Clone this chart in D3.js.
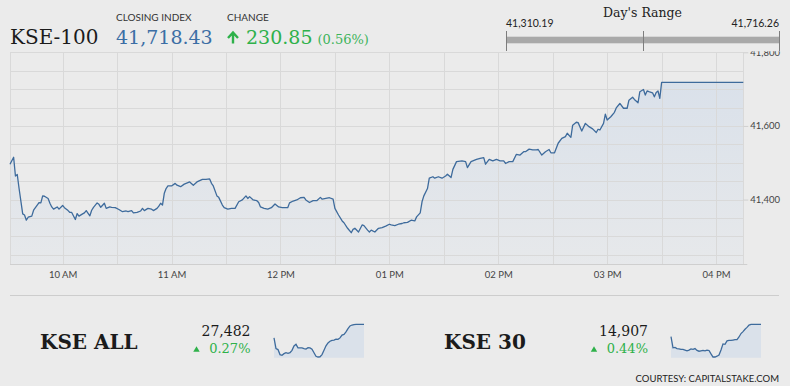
<!DOCTYPE html>
<html>
<head>
<meta charset="utf-8">
<script src="https://cdn.jsdelivr.net/npm/d3@7"></script>
<style>
    html, body { margin: 0; padding: 0; background: #ebebeb; }
    svg { display: block; }
    .serif { font-family: "DejaVu Serif", serif; }
    .sans { font-family: Lato, "Open Sans", sans-serif; }
</style>
</head>
<body>
<div id="chart"></div>
<script>
// KSE-100 intraday (time, index)
const kseTimes = [
    '09:31','09:33','09:34','09:35','09:36','09:38','09:39','09:40','09:41','09:43','09:44','09:46','09:47','09:48','09:49','09:50',
    '09:52','09:53','09:54','09:55','09:57','09:58','10:00','10:01','10:03','10:04','10:05','10:07','10:08','10:09','10:11','10:12',
    '10:13','10:15','10:16','10:17','10:19','10:20','10:21','10:23','10:24','10:26','10:27','10:29','10:31','10:33','10:35','10:36',
    '10:38','10:39','10:41','10:43','10:44','10:45','10:47','10:49','10:50','10:52','10:53','10:54','10:55','10:56','10:57','10:58',
    '11:00','11:02','11:03','11:05','11:07','11:10','11:12','11:14','11:17','11:19','11:21','11:22','11:23','11:25','11:26','11:28',
    '11:29','11:31','11:33','11:35','11:37','11:39','11:41','11:42','11:43','11:45','11:47','11:48','11:49','11:51','11:53','11:55',
    '11:57','11:59','12:01','12:04','12:05','12:07','12:09','12:11','12:13','12:14','12:16','12:18','12:20','12:22','12:23','12:25',
    '12:27','12:29','12:30','12:32','12:34','12:35','12:37','12:39','12:40','12:41','12:43','12:45','12:46','12:48','12:49','12:50',
    '12:52','12:54','12:56','12:58','13:00','13:01','13:03','13:05','13:07','13:08','13:10','13:12','13:14','13:15','13:17','13:18',
    '13:19','13:21','13:22','13:24','13:25','13:27','13:29','13:31','13:32','13:34','13:35','13:37','13:40','13:42','13:43','13:45',
    '13:47','13:48','13:50','13:52','13:53','13:55','13:57','13:59','14:01','14:03','14:04','14:06','14:08','14:10','14:12','14:14',
    '14:15','14:17','14:19','14:21','14:22','14:24','14:26','14:28','14:29','14:31','14:33','14:35','14:37','14:38','14:40','14:41',
    '14:43','14:44','14:46','14:48','14:50','14:52','14:54','14:55','14:56','14:58','14:59','15:00','15:02','15:04','15:05','15:07',
    '15:09','15:11','15:12','15:14','15:15','15:17','15:18','15:20','15:21','15:22','15:23','15:25','15:26','15:27','15:28','15:29',
    '15:30','16:15'
];
const kseValues = [
    41496,41515,41464,41468,41430,41361,41358,41344,41352,41355,41371,41385,41392,41391,41410,41409,
    41403,41390,41380,41374,41380,41374,41384,41378,41370,41365,41365,41346,41362,41355,41361,41364,
    41370,41356,41371,41379,41391,41387,41379,41390,41376,41380,41379,41378,41373,41367,41369,41367,
    41370,41364,41365,41369,41376,41370,41376,41374,41370,41376,41382,41390,41385,41417,41430,41437,
    41437,41444,41439,41435,41442,41448,41439,41448,41455,41455,41456,41444,41437,41410,41406,41385,
    41378,41374,41376,41376,41394,41399,41410,41403,41408,41399,41397,41392,41380,41376,41374,41378,
    41388,41380,41378,41378,41391,41396,41399,41405,41406,41399,41392,41397,41397,41406,41401,41403,
    41405,41401,41376,41358,41342,41337,41322,41310,41319,41322,41312,41331,41329,41317,41312,41317,
    41312,41322,41324,41328,41333,41331,41329,41333,41335,41337,41338,41344,41342,41353,41364,41394,
    41410,41430,41458,41462,41458,41462,41458,41464,41469,41460,41482,41503,41505,41503,41487,41503,
    41507,41509,41512,41514,41496,41509,41505,41509,41505,41505,41498,41503,41503,41523,41521,41530,
    41530,41537,41535,41535,41536,41521,41530,41536,41527,41527,41553,41566,41571,41580,41569,41602,
    41610,41609,41586,41607,41598,41592,41582,41591,41589,41607,41632,41616,41625,41637,41649,41661,
    41648,41648,41670,41678,41672,41663,41693,41699,41684,41695,41693,41690,41679,41691,41695,41675,
    41718.43,41718.43
];
const yTickValues = [41400, 41600, 41800];

const closingIndex = 41718.43;
const change = 230.85;
const changePct = 0.56;
const dayLow = 41310.19;
const dayHigh = 41716.26;

// small indices: name, last, % change, sparkline
const kseAllValues = [
    27425,27380,27376,27355,27352,27359,27363,27360,27363,27373,27391,27398,27383,27383,27383,27380,
    27378,27384,27383,27378,27363,27348,27345,27346,27355,27373,27392,27404,27411,27415,27416,27420,
    27419,27425,27437,27440,27450,27464,27475,27479,27481,27482,27482,27482,27482,27482
];
const kse30Values = [
    14875,14846,14847,14844,14843,14842,14842,14840,14838,14840,14843,14842,14844,14839,14837,14838,
    14839,14838,14840,14839,14830,14822,14822,14824,14827,14840,14856,14855,14864,14865,14865,14866,
    14867,14867,14874,14883,14888,14894,14899,14905,14907,14907,14907,14907,14907,14907
];
const smallNames = ['KSE ALL', 'KSE 30'];
const smallLast = [27482, 14907];
const smallPct = [0.27, 0.44];

const W = 790, H = 386;
const green = '#2eb14a';
const lineColor = '#3e6b9c';
const fmt = d3.format(',.2f');

const svg = d3.select('#chart').append('svg').attr('width', W).attr('height', H);

// ---- header
svg.append('text').attr('class', 'serif').attr('x', 10).attr('y', 43.5)
    .attr('font-size', 20).attr('fill', '#1b1b1b').text('KSE-100');
svg.append('text').attr('class', 'sans').attr('x', 116).attr('y', 20.7)
    .attr('font-size', 10).attr('fill', '#333').text('CLOSING INDEX');
svg.append('text').attr('class', 'serif').attr('x', 116).attr('y', 43.5)
    .attr('font-size', 19).attr('fill', '#3b6ea5').text(fmt(closingIndex));
svg.append('text').attr('class', 'sans').attr('x', 227).attr('y', 20.7)
    .attr('font-size', 10).attr('fill', '#333').text('CHANGE');
svg.append('path').attr('d', 'M233,43.5V32.5M228,38L233,32.5L238,38')
    .attr('fill', 'none').attr('stroke', green).attr('stroke-width', 2.4);
const chg = svg.append('text').attr('class', 'serif').attr('x', 246).attr('y', 43.5).attr('fill', green);
chg.append('tspan').attr('font-size', 19).text(fmt(change));
chg.append('tspan').attr('font-size', 13).attr('dx', 5).attr('fill', '#3cb35a').text('(' + changePct.toFixed(2) + '%)');

// ---- day's range bar
const rx = d3.scaleLinear().domain([dayLow, dayHigh]).range([506, 779]);
svg.append('text').attr('class', 'serif').attr('x', rx((dayLow + dayHigh) / 2)).attr('y', 16.7)
    .attr('text-anchor', 'middle').attr('font-size', 12.5).attr('fill', '#222').text("Day's Range");
svg.append('text').attr('class', 'sans').attr('x', rx(dayLow)).attr('y', 27)
    .attr('font-size', 10.5).attr('fill', '#222').text(fmt(dayLow));
svg.append('text').attr('class', 'sans').attr('x', rx(dayHigh)).attr('y', 27).attr('text-anchor', 'end')
    .attr('font-size', 10.5).attr('fill', '#222').text(fmt(dayHigh));
svg.append('rect').attr('x', rx(dayLow)).attr('y', 36.7).attr('width', rx(dayHigh) - rx(dayLow)).attr('height', 6.6)
    .attr('fill', '#a9a9a9');
svg.selectAll('.range-tick').data([dayLow, (dayLow + dayHigh) / 2, dayHigh]).enter()
    .append('line').attr('class', 'range-tick')
    .attr('x1', d => Math.round(rx(d)) + 0.5).attr('x2', d => Math.round(rx(d)) + 0.5)
    .attr('y1', 31).attr('y2', 51).attr('stroke', '#7d7d7d').attr('stroke-width', 1);

// ---- main chart
const parse = d3.timeParse('%H:%M');
const data = kseTimes.map((t, i) => ({ t: parse(t), v: kseValues[i] }));
const margin = { left: 10, top: 52.3, right: 743.3, bottom: 264 };
const x = d3.scaleTime().domain([parse('09:31'), parse('16:15')]).range([margin.left, margin.right]);
const y = d3.scaleLinear().domain([41225, 41800]).range([margin.bottom, margin.top]);

svg.append('clipPath').attr('id', 'below-header')
    .append('rect').attr('x', 0).attr('y', 51.3).attr('width', W).attr('height', 250);
const plot = svg.append('g').attr('clip-path', 'url(#below-header)');

const grad = svg.append('defs').append('linearGradient').attr('id', 'fillGrad')
    .attr('gradientUnits', 'userSpaceOnUse').attr('x1', 0).attr('x2', 0)
    .attr('y1', y(41718)).attr('y2', margin.bottom);
grad.append('stop').attr('offset', 0).attr('stop-color', 'rgb(150,185,230)').attr('stop-opacity', 0.2);
grad.append('stop').attr('offset', 1).attr('stop-color', 'rgb(150,185,230)').attr('stop-opacity', 0.05);

plot.append('path').datum(data)
    .attr('d', d3.area().x(d => x(d.t)).y0(margin.bottom).y1(d => y(d.v)))
    .attr('fill', 'url(#fillGrad)');

// grid
const gridColor = '#d9d9d9';
plot.append('g').selectAll('line').data(d3.range(41250, 41801, 50)).enter().append('line')
    .attr('x1', margin.left).attr('x2', margin.right)
    .attr('y1', d => Math.round(y(d)) + 0.5).attr('y2', d => Math.round(y(d)) + 0.5)
    .attr('stroke', gridColor);
const vTimes = [parse('09:31')].concat(d3.timeMinute.every(30).range(parse('10:00'), parse('16:01')), [parse('16:15')]);
plot.append('g').selectAll('line').data(vTimes).enter().append('line')
    .attr('x1', d => Math.round(x(d)) + 0.5).attr('x2', d => Math.round(x(d)) + 0.5)
    .attr('y1', margin.top).attr('y2', margin.bottom)
    .attr('stroke', gridColor);
plot.append('line').attr('x1', margin.left).attr('x2', margin.right + 4)
    .attr('y1', margin.bottom + 0.5).attr('y2', margin.bottom + 0.5).attr('stroke', '#cfcfcf');

plot.append('path').datum(data)
    .attr('d', d3.line().x(d => x(d.t)).y(d => y(d.v)))
    .attr('fill', 'none').attr('stroke', lineColor).attr('stroke-width', 1.3).attr('stroke-linejoin', 'round');

// y axis on the right
const yAxis = d3.axisRight(y).tickValues(yTickValues).tickSize(5).tickPadding(2).tickFormat(d3.format(','));
const ya = plot.append('g').attr('transform', `translate(${margin.right},0)`).call(yAxis);
ya.select('.domain').remove();
ya.selectAll('line').attr('stroke', '#cfcfcf');
ya.selectAll('text').attr('class', 'sans').attr('font-size', 9.5).attr('fill', '#444');

// x axis labels
const xAxis = d3.axisBottom(x).tickValues(d3.timeHour.every(1).range(parse('10:00'), parse('16:01')))
    .tickSize(0).tickPadding(7).tickFormat(d3.timeFormat('%I %p'));
const xa = svg.append('g').attr('transform', `translate(0,${margin.bottom})`).call(xAxis);
xa.select('.domain').remove();
xa.selectAll('text').attr('class', 'sans').attr('font-size', 9.5).attr('fill', '#444');

// ---- separator
svg.append('line').attr('x1', 10).attr('x2', 779).attr('y1', 295.5).attr('y2', 295.5)
    .attr('stroke', '#cdcdcd');

// ---- small index panels
function smallPanel(i, left, numRight, sparkLeft, values) {
    svg.append('text').attr('class', 'serif').attr('x', left).attr('y', 348.5)
        .attr('font-size', 20).attr('font-weight', 'bold').attr('fill', '#1b1b1b').text(smallNames[i]);
    svg.append('text').attr('class', 'serif').attr('x', numRight).attr('y', 335.7).attr('text-anchor', 'end')
        .attr('font-size', 14).attr('fill', '#1b1b1b').text(d3.format(',')(smallLast[i]));
    svg.append('text').attr('class', 'serif').attr('x', numRight).attr('y', 353.3).attr('text-anchor', 'end')
        .attr('font-size', 13).attr('fill', green).text(smallPct[i].toFixed(2) + '%');
    svg.append('path').attr('d', d3.symbol(d3.symbolTriangle).size(18)())
        .attr('transform', `translate(${numRight - 54},350)`).attr('fill', green);

    const sx = d3.scaleLinear().domain([0, values.length - 1]).range([sparkLeft, sparkLeft + 90]);
    const sy = d3.scaleLinear().domain(d3.extent(values)).range([357, 324.3]);
    svg.append('path').datum(values)
        .attr('d', d3.area().x((d, j) => sx(j)).y0(357.7).y1(d => sy(d)))
        .attr('fill', '#dae1ea');
    svg.append('path').datum(values)
        .attr('d', d3.line().x((d, j) => sx(j)).y(d => sy(d)))
        .attr('fill', 'none').attr('stroke', lineColor).attr('stroke-width', 1.3);
}
smallPanel(0, 40, 250.5, 274, kseAllValues);
smallPanel(1, 444, 648, 671, kse30Values);

svg.append('text').attr('class', 'sans').attr('x', 779).attr('y', 381.5).attr('text-anchor', 'end')
    .attr('font-size', 9.5).attr('fill', '#222').text('COURTESY: CAPITALSTAKE.COM');
</script>
</body>
</html>
